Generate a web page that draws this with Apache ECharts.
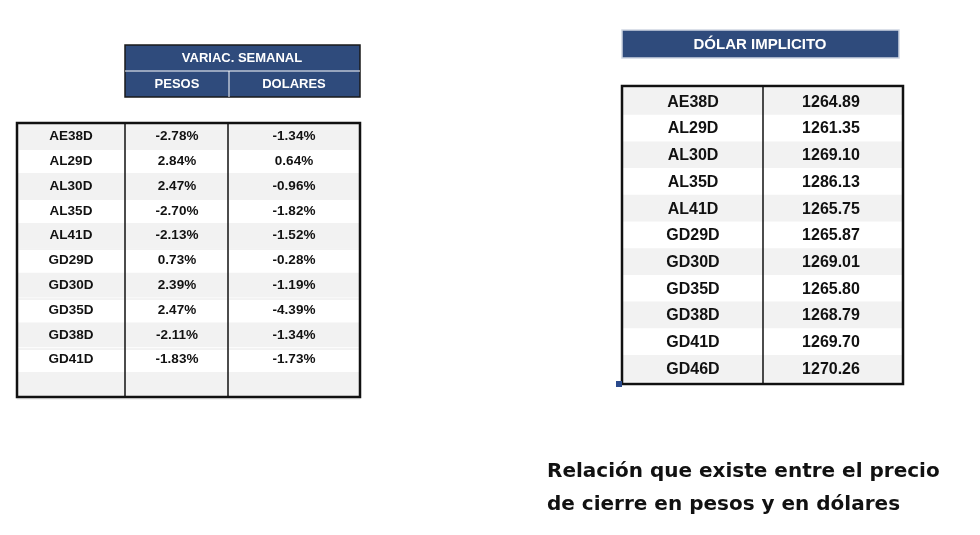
<!DOCTYPE html>
<html><head><meta charset="utf-8">
<script src="https://cdn.jsdelivr.net/npm/echarts@6/dist/echarts.min.js"></script>
<style>html,body{margin:0;padding:0;background:#fff}#c{width:980px;height:535px}</style>
</head><body><div id="c"></div>
<script>
const leftTickers = ['AE38D','AL29D','AL30D','AL35D','AL41D','GD29D','GD30D','GD35D','GD38D','GD41D',''];
const pesos = ['-2.78%','2.84%','2.47%','-2.70%','-2.13%','0.73%','2.39%','2.47%','-2.11%','-1.83%',''];
const dolares = ['-1.34%','0.64%','-0.96%','-1.82%','-1.52%','-0.28%','-1.19%','-4.39%','-1.34%','-1.73%',''];
const rightTickers = ['AE38D','AL29D','AL30D','AL35D','AL41D','GD29D','GD30D','GD35D','GD38D','GD41D','GD46D'];
const implicito = ['1264.89','1261.35','1269.10','1286.13','1265.75','1265.87','1269.01','1265.80','1268.79','1269.70','1270.26'];
const leftHeader = 'VARIAC. SEMANAL', leftCols = ['PESOS','DOLARES'];
const rightHeader = 'DÓLAR IMPLICITO';
const caption = ['Relación que existe entre el precio','de cierre en pesos y en dólares'];

const NAVY = '#2f4b7c', F = '"Liberation Sans", Arial, sans-serif';
const g = [];
function rect(x,y,w,h,fill,stroke,lw){g.push({type:'rect',shape:{x,y,width:w,height:h},style:{fill:fill||'none',stroke:stroke||null,lineWidth:lw||0},silent:true});}
function line(x1,y1,x2,y2,c,lw){g.push({type:'line',shape:{x1,y1,x2,y2},style:{stroke:c,lineWidth:lw},silent:true});}
function text(x,y,t,size,color,align,font){g.push({type:'text',x,y,style:{text:t,fill:color||'#111',font:'bold '+size+'px '+(font||F),textAlign:align||'center',textVerticalAlign:'middle'},silent:true});}

// faint spreadsheet gridlines
for(let i=0;i<=11;i++){line(17,124+i*25,360,124+i*25,'#e6e6e6',1);}
// left header
rect(125,45,235,52,NAVY,'#1a1a1a',1.5);
line(125,71,360,71,'#ffffff',1);
line(229,71,229,97,'#ffffff',1);
text(242,58,leftHeader,13,'#fff');
text(177,84,leftCols[0],13,'#fff');
text(294,84,leftCols[1],13,'#fff');
// left table
const L0=124, LH=24.8;
leftTickers.forEach((t,i)=>{
  const y=L0+i*LH;
  if(i%2===0) rect(18,y,341,LH,'#f2f2f2');
  text(71,y+LH/2,t,13.5);
  text(177,y+LH/2,pesos[i],13.5);
  text(294,y+LH/2,dolares[i],13.5);
});
line(125,124,125,397,'#111',1.5);
line(228,124,228,397,'#111',1.5);
rect(17,123,343,274,null,'#111',2.5);
// right header
rect(622,30,277,28,NAVY,'#cfd6e2',1.5);
text(760,45,rightHeader,15,'#fff');
// right table
const R0=88, RH=26.7;
rightTickers.forEach((t,i)=>{
  const y=R0+i*RH;
  if(i%2===0) rect(623,y,279,RH,'#f2f2f2');
  text(693,y+RH/2+1,t,16);
  text(831,y+RH/2+1,implicito[i],16);
});
line(763,86,763,384,'#111',1.5);
rect(622,86,281,298,null,'#111',2.5);
rect(616,381,6,6,'#2a4a8c');
// caption
text(547,472,caption[0],20,'#111','left','"DejaVu Sans", sans-serif');
text(547,505,caption[1],20,'#111','left','"DejaVu Sans", sans-serif');

const chart = echarts.init(document.getElementById('c'));
chart.setOption({animation:false,graphic:g});
</script></body></html>
